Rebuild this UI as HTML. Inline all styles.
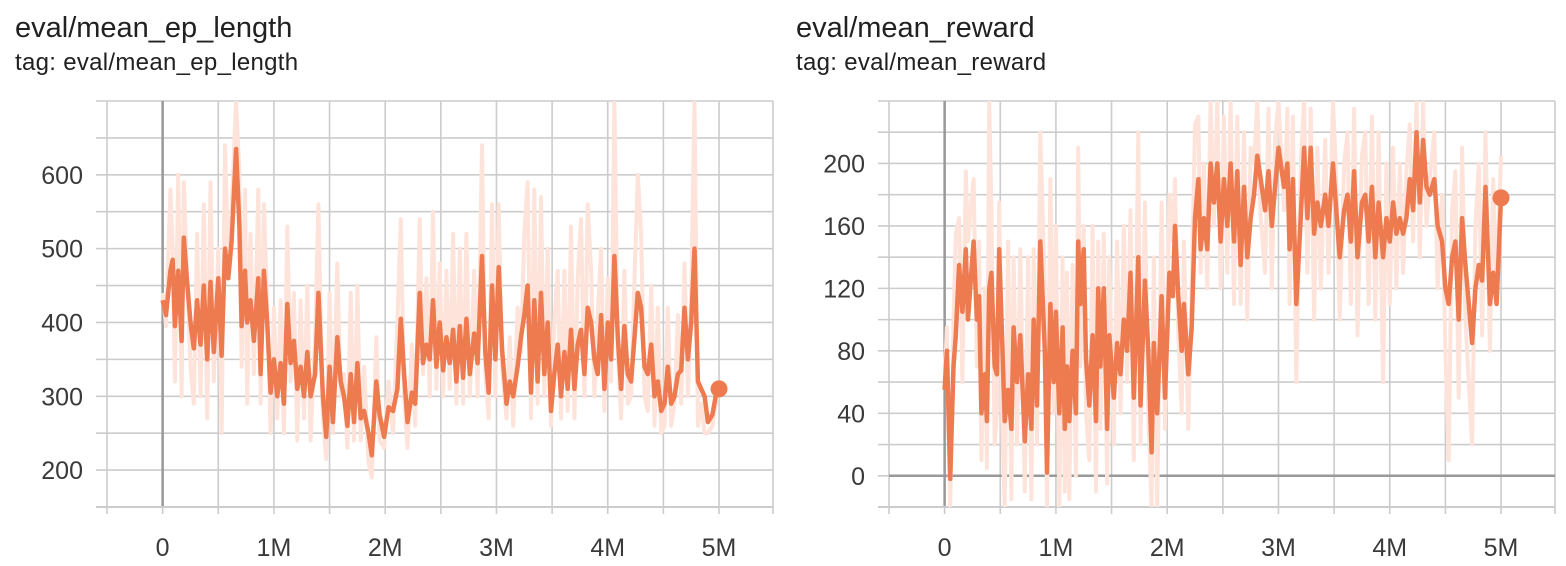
<!DOCTYPE html>
<html><head><meta charset="utf-8">
<style>
html,body{margin:0;padding:0;background:#fff;width:1566px;height:566px;overflow:hidden;font-family:"Liberation Sans",sans-serif;}
.t{position:absolute;color:#212121;font-size:29px;line-height:32px;}
.g{position:absolute;color:#212121;font-size:24px;line-height:28px;letter-spacing:0.3px;}
svg{position:absolute;left:0;top:0;}
</style></head>
<body>
<div class="t" style="left:15px;top:12px;">eval/mean_ep_length</div>
<div class="g" style="left:15px;top:49px;">tag: eval/mean_ep_length</div>
<div class="t" style="left:796px;top:12px;">eval/mean_reward</div>
<div class="g" style="left:796px;top:49px;">tag: eval/mean_reward</div>
<svg id="chart" width="1566" height="566"></svg>
<script>
const stepsL=[0,.03,.07,.09,.11,.14,.17,.19,.22,.25,.28,.31,.34,.37,.40,.43,.46,.50,.53,.56,.59,.62,.66,.69,.71,.74,.76,.79,.82,.86,.88,.91,.94,.97,1.0,1.03,1.06,1.09,1.12,1.15,1.18,1.21,1.24,1.27,1.30,1.33,1.37,1.40,1.44,1.47,1.50,1.53,1.57,1.60,1.63,1.66,1.69,1.72,1.75,1.78,1.81,1.85,1.88,1.92,1.95,1.99,2.03,2.07,2.11,2.14,2.17,2.20,2.24,2.27,2.31,2.34,2.37,2.40,2.43,2.46,2.49,2.52,2.55,2.58,2.61,2.64,2.67,2.70,2.73,2.76,2.80,2.83,2.87,2.90,2.93,2.96,2.99,3.02,3.05,3.09,3.12,3.15,3.19,3.22,3.25,3.28,3.31,3.34,3.37,3.40,3.43,3.46,3.49,3.52,3.55,3.58,3.61,3.64,3.67,3.70,3.73,3.76,3.79,3.82,3.85,3.88,3.91,3.94,3.97,4.0,4.03,4.06,4.09,4.12,4.15,4.18,4.21,4.24,4.27,4.30,4.33,4.36,4.39,4.42,4.45,4.48,4.51,4.54,4.57,4.60,4.63,4.66,4.69,4.72,4.75,4.78,4.81,4.84,4.87,4.90,4.94,4.97,5.0];
const smoothL=[430,410,470,485,395,470,375,515,455,400,365,430,370,450,350,455,360,460,355,500,460,510,635,530,395,470,400,430,375,460,330,470,400,305,350,300,345,290,425,345,375,310,340,300,360,300,330,440,300,245,340,265,380,320,300,260,330,265,345,270,280,250,220,320,275,245,285,280,310,405,330,265,305,290,440,345,370,350,430,340,400,335,380,345,390,320,395,325,405,330,385,345,490,360,305,450,350,475,365,290,320,300,340,380,410,450,305,430,320,440,330,400,280,330,370,300,360,310,390,310,370,390,330,420,400,350,330,410,310,400,350,490,380,310,395,330,320,380,440,420,340,330,370,300,320,280,290,340,290,300,330,335,420,350,400,500,320,310,300,265,275,300,310];
const rawL=[440,395,580,500,320,600,300,590,460,340,290,520,300,560,270,590,320,500,250,640,470,550,700,600,340,580,290,520,330,580,290,560,420,250,420,270,430,250,530,320,440,240,430,270,450,240,380,560,270,215,440,250,480,300,330,230,440,240,450,240,340,210,190,380,240,230,320,250,400,540,300,230,370,260,540,330,460,300,550,310,480,300,470,310,520,290,500,290,520,300,470,300,640,330,270,560,300,560,340,270,380,260,420,360,520,590,270,580,290,570,300,500,260,400,470,270,470,280,530,270,460,540,300,560,470,300,410,500,280,460,320,700,360,270,470,290,300,460,600,520,300,280,450,260,420,250,260,420,260,290,410,290,480,300,440,700,260,290,250,250,260,290,310];
const yTicksL=[200,300,400,500,600];
const stepsR=[0,.02,.05,.08,.10,.13,.16,.19,.21,.24,.26,.29,.31,.33,.36,.38,.40,.42,.45,.47,.49,.52,.54,.57,.60,.62,.65,.68,.72,.75,.78,.80,.83,.86,.90,.92,.95,.98,1.0,1.03,1.06,1.08,1.10,1.12,1.15,1.18,1.2,1.22,1.25,1.27,1.30,1.33,1.36,1.38,1.40,1.43,1.46,1.48,1.52,1.55,1.58,1.61,1.64,1.67,1.70,1.74,1.76,1.80,1.83,1.86,1.88,1.91,1.95,1.98,2.02,2.05,2.07,2.10,2.13,2.15,2.19,2.22,2.25,2.28,2.30,2.33,2.36,2.39,2.42,2.45,2.48,2.51,2.54,2.57,2.60,2.63,2.66,2.69,2.72,2.75,2.78,2.81,2.84,2.88,2.91,2.94,2.97,3.0,3.05,3.08,3.1,3.13,3.16,3.2,3.23,3.26,3.29,3.32,3.35,3.38,3.42,3.45,3.49,3.52,3.55,3.59,3.62,3.65,3.68,3.71,3.75,3.78,3.81,3.84,3.87,3.9,3.94,3.97,4.0,4.03,4.06,4.09,4.12,4.15,4.18,4.21,4.24,4.27,4.3,4.33,4.36,4.40,4.43,4.47,4.50,4.53,4.56,4.59,4.62,4.65,4.68,4.71,4.74,4.77,4.80,4.83,4.86,4.90,4.93,4.96,5.0];
const smoothR=[55,80,-2,70,90,135,105,145,100,130,150,100,115,40,65,35,120,130,70,65,145,80,35,55,30,95,60,90,22,65,30,100,45,150,80,2,110,60,105,40,95,30,70,35,80,40,150,110,145,75,45,90,35,120,70,120,30,90,50,85,65,100,80,130,50,140,45,125,80,15,85,40,115,50,130,115,160,115,80,110,65,95,165,190,145,165,145,200,175,200,150,190,160,200,150,195,135,185,140,165,180,205,190,170,195,160,185,210,185,200,145,190,110,165,210,165,210,155,175,160,180,160,200,170,140,170,180,150,195,140,175,180,150,185,140,175,140,165,150,175,155,165,155,165,190,170,220,175,215,185,180,190,160,150,120,110,140,150,100,165,135,110,85,120,135,125,185,110,130,110,178];
const rawR=[60,95,-20,100,155,165,60,195,150,175,190,70,150,10,120,5,240,170,20,40,175,30,-20,150,-15,140,20,145,-10,140,-15,145,20,220,120,-20,190,40,160,-20,140,-10,130,-15,135,0,210,70,160,40,10,160,-10,150,30,155,-5,140,20,150,40,160,60,170,10,220,20,175,40,-20,140,-20,175,30,180,150,190,90,40,150,30,120,225,230,130,200,120,240,160,240,120,230,130,240,110,230,110,220,100,210,200,240,165,130,235,120,215,240,170,235,110,230,60,200,240,130,235,100,210,120,215,130,240,190,100,200,220,110,235,90,205,220,110,230,100,220,60,200,110,210,120,200,130,195,225,150,240,140,240,160,190,220,120,180,80,10,170,195,50,210,100,60,20,160,200,90,220,80,190,120,205];
const yTicksR=[0,40,80,120,160,200];
const xTickLabels=["0","1M","2M","3M","4M","5M"];
const xTickValues=[0,1,2,3,4,5];

const NS="http://www.w3.org/2000/svg";
const svg=document.getElementById('chart');
function mk(tag,attrs,parent){const e=document.createElementNS(NS,tag);for(const k in attrs)e.setAttribute(k,attrs[k]);(parent||svg).appendChild(e);return e;}

function drawChart(id,px0,px1,py0,py1,ymin,ymax,ystep,yTicks,steps,smooth,raw){
  const sx=v=>px0+(v+0.5)/(5.985)*(px1-px0);
  const sy=v=>py1-(v-ymin)/(ymax-ymin)*(py1-py0);
  const g=mk('g',{});
  
  
  for(let v=ymin;v<=ymax+0.001;v+=ystep){
    const l=mk('line',{x1:px0-11,x2:px1,y1:sy(v),y2:sy(v),stroke:'#cccccc','stroke-width':1.6},g);
    
    
  }
  for(let v=-0.5;v<=5.0001;v+=0.5){
    const l=mk('line',{x1:sx(v),x2:sx(v),y1:py0,y2:py1+7,stroke:'#cccccc','stroke-width':1.6},g);
    
    
  }
  const rb=mk('line',{x1:px1,x2:px1,y1:py0,y2:py1+7,stroke:'#cccccc','stroke-width':1.6},g);
  
  
  const zx=mk('line',{x1:sx(0),x2:sx(0),y1:py0,y2:py1,stroke:'#999','stroke-width':2.5},g);
  
  
  if(ymin<0){
    const zy=mk('line',{x1:sx(-0.5),x2:px1,y1:sy(0),y2:sy(0),stroke:'#999','stroke-width':2.5},g);
    
    
  }
  const bb=mk('line',{x1:px0-11,x2:px1,y1:py1,y2:py1,stroke:'#cccccc','stroke-width':2},g);
  
  
  yTicks.forEach(v=>{
    const t=mk('text',{x:px0-24,y:sy(v)+9,'text-anchor':'end','font-size':25,fill:'#3a3a3a','font-family':'Liberation Sans, sans-serif'},g);
    t.textContent=v;
    
    
  });
  xTickValues.forEach((v,i)=>{
    const t=mk('text',{x:sx(v),y:556,'text-anchor':'middle','font-size':25,fill:'#3a3a3a','font-family':'Liberation Sans, sans-serif'},g);
    t.textContent=xTickLabels[i];
    
    
  });
  const cp=mk('clipPath',{id:id+'-clip'},g);
  mk('rect',{x:px0,y:py0,width:px1-px0,height:py1-py0},cp);
  const n=Math.min(steps.length,raw.length);
  let d='';
  for(let i=0;i<n;i++) d+=(i?'L':'M')+sx(steps[i]).toFixed(1)+','+sy(raw[i]).toFixed(1);
  const rp=mk('path',{d:d,fill:'none',stroke:'#fde3da','stroke-width':4,'stroke-linejoin':'round','clip-path':'url(#'+id+'-clip)'},g);
  
  
  const m=Math.min(steps.length,smooth.length);
  d='';
  for(let i=0;i<m;i++) d+=(i?'L':'M')+sx(steps[i]).toFixed(1)+','+sy(smooth[i]).toFixed(1);
  const sp=mk('path',{d:d,fill:'none',stroke:'#ee7a50','stroke-width':4.5,'stroke-linejoin':'round','clip-path':'url(#'+id+'-clip)'},g);
  
  
  const c=mk('circle',{cx:sx(steps[m-1]),cy:sy(smooth[m-1]),r:8.5,fill:'#ee7a50'},g);
  
  
}
drawChart('ep-length',107,773,101,507,150,700,50,yTicksL,stepsL,smoothL,rawL);
drawChart('reward',889,1555,101,507,-20,240,20,yTicksR,stepsR,smoothR,rawR);
</script>
</body></html>
